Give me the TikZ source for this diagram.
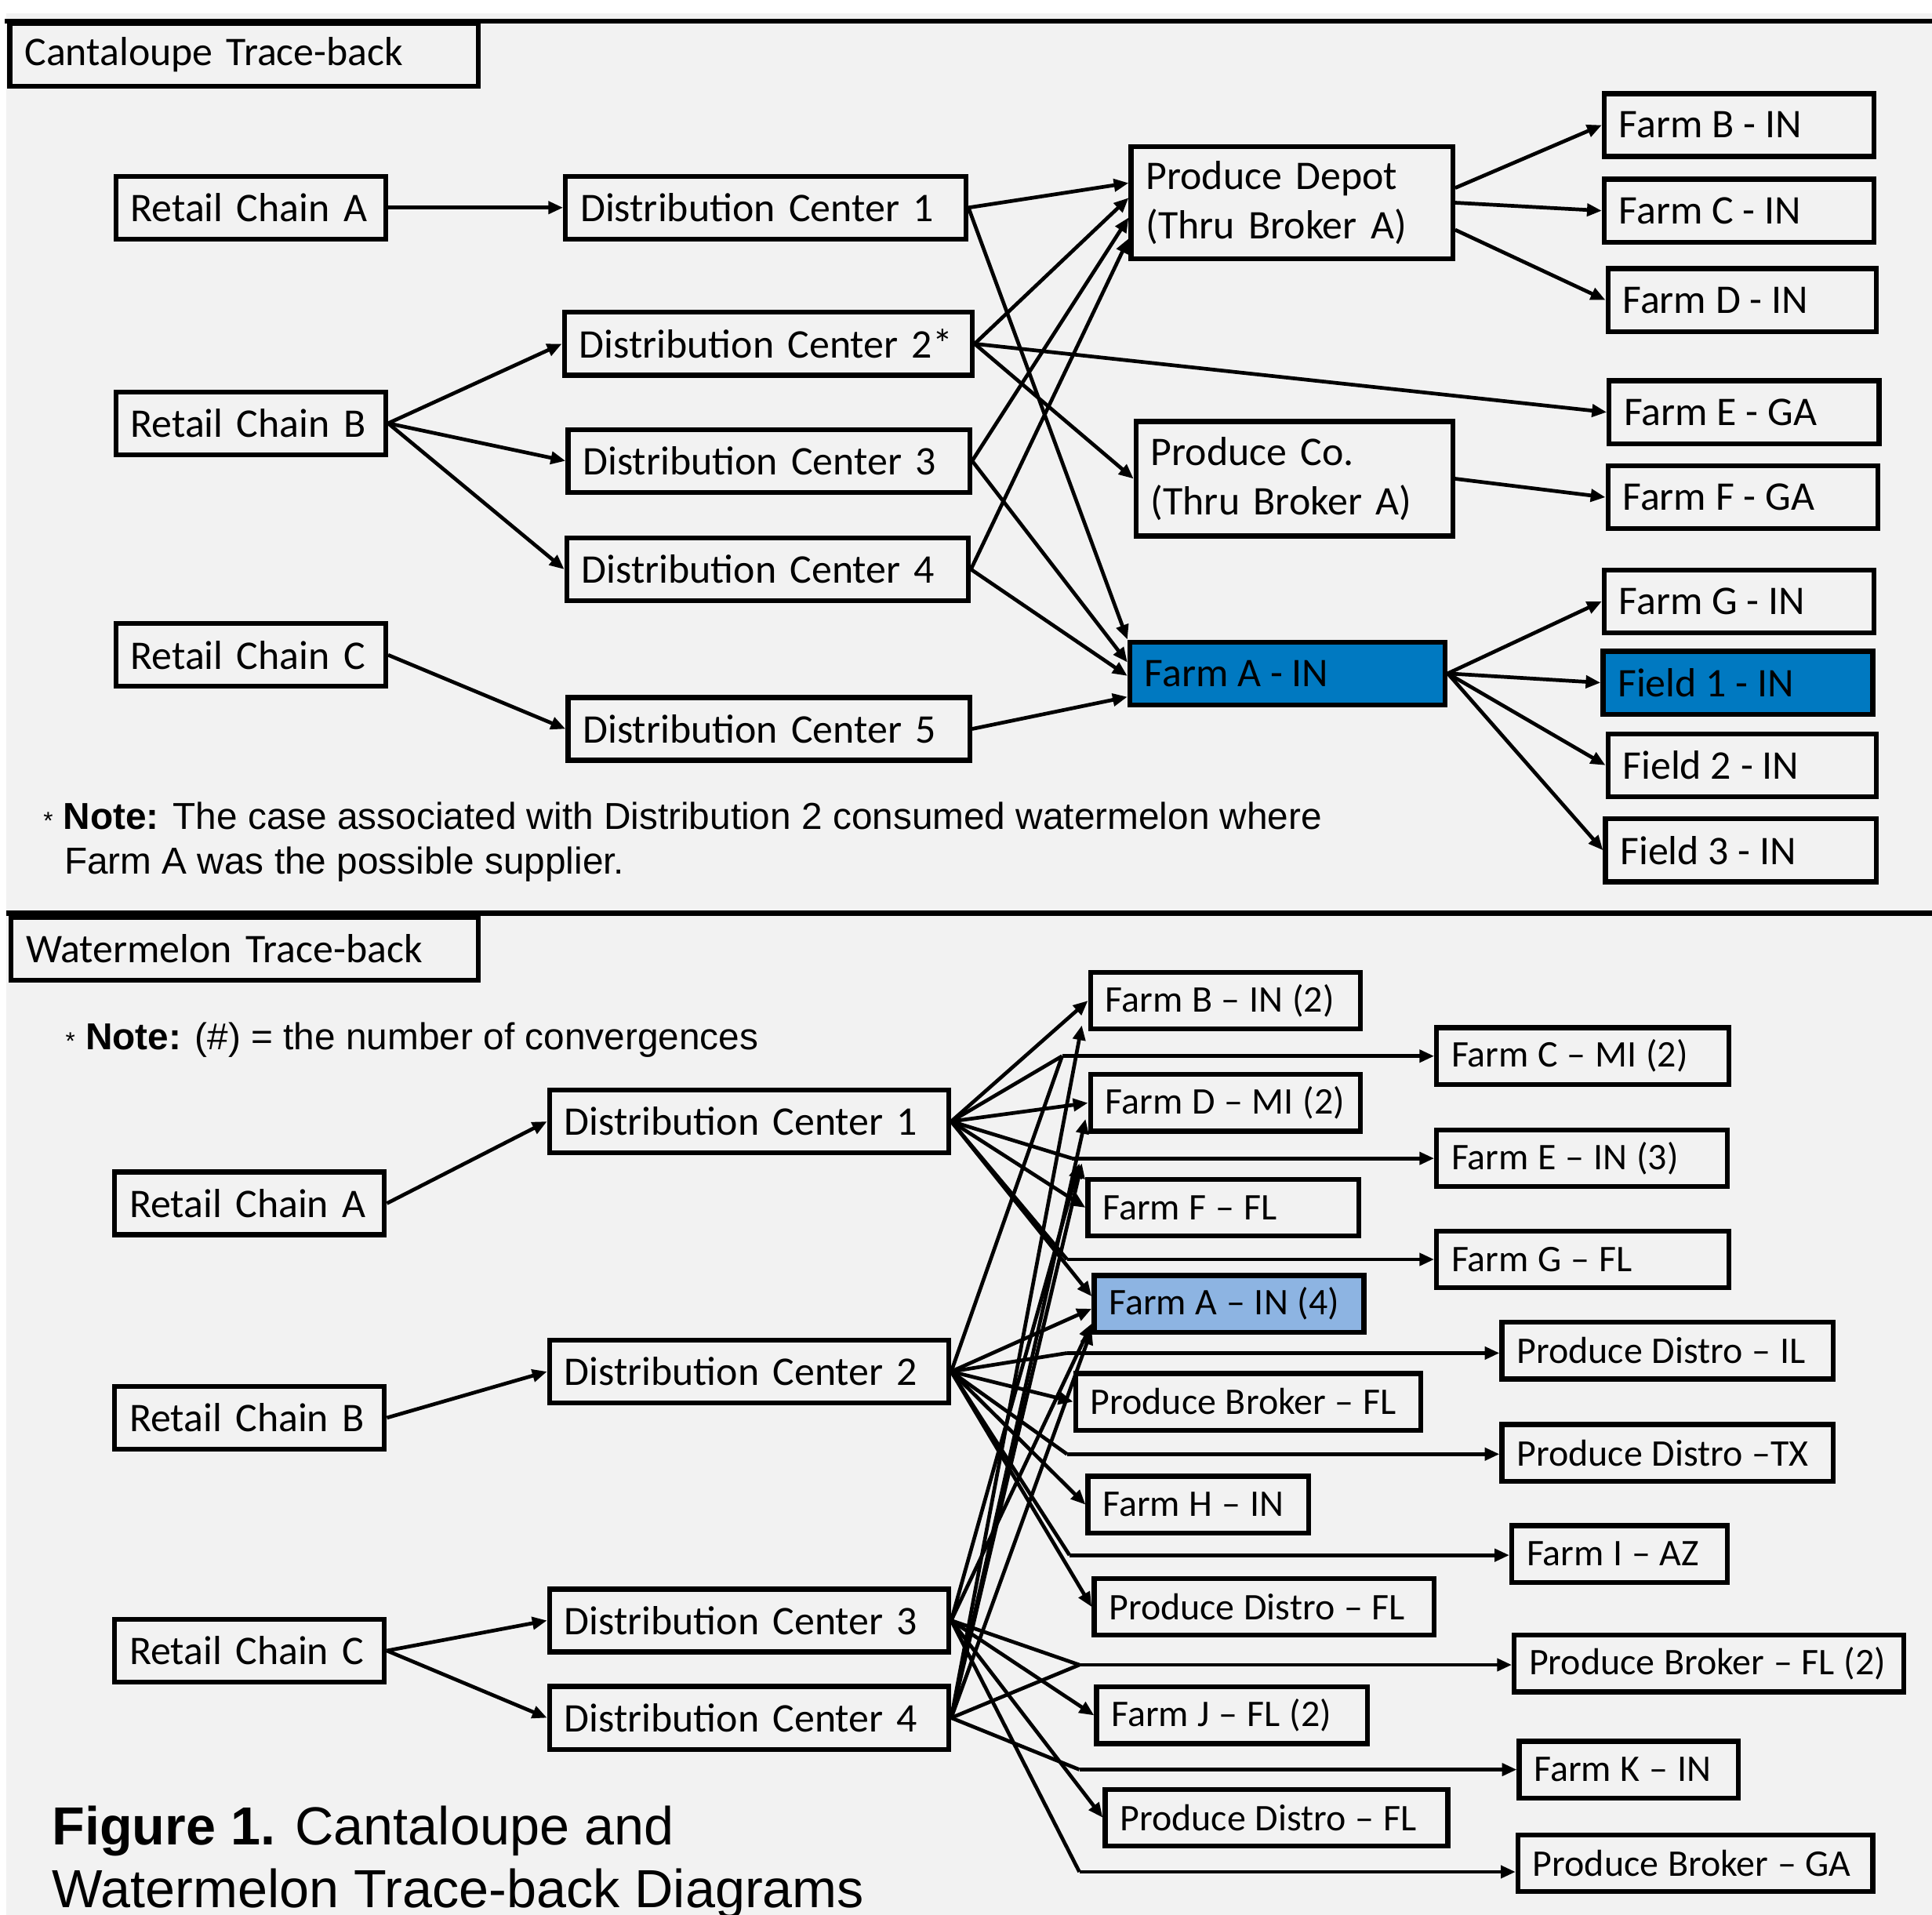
\documentclass[tikz,border=0pt]{standalone}
\usepackage{fontspec}
\setmainfont{Carlito}
\newfontfamily\notefont{Liberation Sans}
\usetikzlibrary{arrows.meta,calc}

\definecolor{panel}{RGB}{242,242,242}
\definecolor{farmblue}{RGB}{0,121,193}
\definecolor{lightblue}{RGB}{141,180,226}

\begin{document}
\begin{tikzpicture}[x=1pt,y=-1pt,
  cbox/.style={draw,line width=4pt,anchor=west,align=left,inner xsep=12pt,
               inner ysep=0pt,minimum height=51pt,text width=#1,
               font=\fontsize{33}{40}\selectfont},
  fbox/.style={cbox=#1,execute at begin node={\spaceskip=7.5pt\relax}},
  wbox/.style={cbox=#1,minimum height=46pt,font=\fontsize{30.5}{36}\selectfont,
               execute at begin node={\spaceskip=7.5pt\relax}},
  link/.style={line width=3pt},
  arrow/.style={link,-{Triangle[length=12pt,width=10pt]}},
  note/.style={anchor=base west,inner sep=0pt,font=\notefont\fontsize{30.4}{36}\selectfont}]

\fill[white] (0,0) rectangle (1568,1554);
\fill[panel] (5,11) rectangle (1568,1554);
\useasboundingbox (0,0) rectangle (1568,1554);
\draw[line width=4pt] (4,17) -- (1568,17);
\draw[line width=4pt] (5,741) -- (1568,741);

% Cantaloupe trace-back
\node[cbox=356pt] (ctitle) at (6,44.5) {Cantaloupe Trace-back};

\node[cbox=195pt] (rcA) at (92,168.5) {Retail Chain A};
\node[cbox=195pt] (rcB) at (92,343.5) {Retail Chain B};
\node[cbox=195pt] (rcC) at (92,531.5) {Retail Chain C};

\node[cbox=301pt] (dc1) at (457,168.5) {Distribution Center 1};
\node[cbox=307pt] (dc2) at (456,279) {Distribution Center 2*};
\node[cbox=302pt] (dc3) at (459,374) {Distribution Center 3};
\node[cbox=302pt] (dc4) at (458,462) {Distribution Center 4};
\node[cbox=302pt] (dc5) at (459,591.5) {Distribution Center 5};

\node[cbox=237pt,minimum height=91pt] (depot) at (916,164.5) {Produce Depot\\(Thru Broker A)};
\node[cbox=233pt,minimum height=93pt] (coop) at (920,388.5) {Produce Co.\\(Thru Broker A)};
\node[fbox=232pt,fill=farmblue] (farmA) at (915,546.5) {Farm A - IN};

\node[fbox=195pt] (farmB) at (1300,101.5) {Farm B - IN};
\node[fbox=195pt] (farmC) at (1300,171) {Farm C - IN};
\node[fbox=194pt] (farmD) at (1303,243.5) {Farm D - IN};
\node[fbox=195pt] (farmE) at (1304,334.5) {Farm E - GA};
\node[fbox=195pt] (farmF) at (1303,403.5) {Farm F - GA};
\node[fbox=195pt] (farmG) at (1300,488) {Farm G - IN};
\node[fbox=195pt,fill=farmblue] (field1) at (1299,554) {Field 1 - IN};
\node[fbox=194pt] (field2) at (1303,621) {Field 2 - IN};
\node[fbox=196pt] (field3) at (1301,690) {Field 3 - IN};

\draw[arrow] (rcA.east) -- (dc1.west);
\foreach \t in {dc2,dc3,dc4}
  \draw[arrow] (rcB.east) -- (\t.west);
\draw[arrow] (rcC.east) -- (dc5.west);

\draw[arrow] (dc1.east) -- ($(depot.west)+(0,-16)$);
\draw[arrow] (dc1.east) -- (farmA.north west);
\draw[arrow] (dc2.east) -- ($(depot.west)+(0,-4)$);
\draw[arrow] (dc2.east) -- (farmE.west);
\draw[arrow] (dc2.east) -- (coop.west);
\draw[arrow] (dc3.east) -- ($(depot.west)+(0,12)$);
\draw[arrow] (dc3.east) -- ($(farmA.west)+(0,-9)$);
\draw[arrow] (dc4.east) -- ($(depot.west)+(0,29)$);
\draw[arrow] (dc4.east) -- ($(farmA.west)+(0,2)$);
\draw[arrow] (dc5.east) -- ($(farmA.west)+(0,19)$);

\foreach \t/\s in {farmB/-12,farmC/0,farmD/22}
  \draw[arrow] ($(depot.east)+(0,\s)$) -- (\t.west);
\draw[arrow] (coop.east) -- (farmF.west);
\foreach \t in {farmG,field1,field2,field3}
  \draw[arrow] (farmA.east) -- (\t.west);

\node[note] (cnote) at (35,673)
  {{\fontsize{20}{20}\selectfont*} \textbf{Note:} The case associated with Distribution 2 consumed watermelon where};
\node[note] (cnote2) at (52,709) {Farm A was the possible supplier.};

% Watermelon trace-back
\node[cbox=355pt] (wtitle) at (7,770) {Watermelon Trace-back};
\node[note] (wnote) at (53,852)
  {{\fontsize{20}{20}\selectfont*} \textbf{Note:} (\#) = the number of convergences};

\node[cbox=195pt] (wrcA) at (91,976.5) {Retail Chain A};
\node[cbox=195pt] (wrcB) at (91,1150.5) {Retail Chain B};
\node[cbox=195pt] (wrcC) at (91,1339.5) {Retail Chain C};

\node[cbox=300pt] (wdc1) at (444,910) {Distribution Center 1};
\node[cbox=300pt] (wdc2) at (444,1113) {Distribution Center 2};
\node[cbox=300pt] (wdc3) at (444,1315) {Distribution Center 3};
\node[cbox=300pt] (wdc4) at (444,1394) {Distribution Center 4};

\node[wbox=195pt] (wfB) at (883,812) {Farm B -- IN (2)};
\node[wbox=195pt] (wfD) at (883,895) {Farm D -- MI (2)};
\node[wbox=196pt] (wfF) at (881,980) {Farm F -- FL};
\node[wbox=195pt,fill=lightblue] (wfA) at (886,1058) {Farm A -- IN (4)};
\node[wbox=256pt] (wpbFL) at (871,1137.5) {Produce Broker -- FL};
\node[wbox=155pt] (wfH) at (881,1221) {Farm H -- IN};
\node[wbox=252pt] (wpdFL1) at (886,1304) {Produce Distro -- FL};
\node[wbox=196pt] (wfJ) at (888,1392) {Farm J -- FL (2)};
\node[wbox=254pt] (wpdFL2) at (895,1475) {Produce Distro -- FL};

\node[wbox=213pt] (wfC) at (1164,857) {Farm C -- MI (2)};
\node[wbox=212pt] (wfE) at (1164,940) {Farm E -- IN (3)};
\node[wbox=213pt] (wfG) at (1164,1022) {Farm G -- FL};
\node[wbox=245pt] (wpdIL) at (1217,1096) {Produce Distro -- IL};
\node[wbox=245pt] (wpdTX) at (1217,1179) {Produce Distro --TX};
\node[wbox=151pt] (wfI) at (1225,1261) {Farm I -- AZ};
\node[wbox=292pt] (wpbFL2) at (1227,1350) {Produce Broker -- FL (2)};
\node[wbox=154pt] (wfK) at (1231,1436) {Farm K -- IN};
\node[wbox=264pt] (wpbGA) at (1230,1512) {Produce Broker -- GA};

\coordinate (eC) at (862,857);
\coordinate (eE) at (870,940);
\coordinate (eG) at (866,1022);
\coordinate (eIL) at (866,1098);
\coordinate (eTX) at (866,1180);
\coordinate (eI) at (868,1262);
\coordinate (ePB) at (876,1351);
\coordinate (eK) at (876,1436);
\coordinate (eGA) at (876,1519);

\draw[arrow] (wrcA.east) -- (wdc1.west);
\draw[arrow] (wrcB.east) -- (wdc2.west);
\draw[arrow] (wrcC.east) -- (wdc3.west);
\draw[arrow] (wrcC.east) -- (wdc4.west);

% DC 1
\foreach \t in {wfB,wfD,wfF}
  \draw[arrow] (wdc1.east) -- (\t.west);
\draw[arrow] (wdc1.east) -- ($(wfA.west)+(0,-6)$);
\foreach \e in {eC,eE,eG}
  \draw[link] (wdc1.east) -- (\e);

% DC 2
\draw[link] (wdc2.east) -- (eC);
\draw[arrow] (wdc2.east) -- ($(wfA.west)+(0,4)$);
\foreach \e in {eIL,eTX,eI}
  \draw[link] (wdc2.east) -- (\e);
\foreach \t in {wpbFL,wfH,wpdFL1}
  \draw[arrow] (wdc2.east) -- (\t.west);

% DC 3
\draw[arrow] (wdc3.east) -- ($(eE)+(6,4)$);
\draw[arrow] (wdc3.east) -- ($(wfA.south west)+(0,-9)$);
\draw[link] (wdc3.east) -- (ePB);
\draw[arrow] (wdc3.east) -- (wfJ.west);
\draw[arrow] (wdc3.east) -- (wpdFL2.west);
\draw[link] (wdc3.east) -- (eGA);

% DC 4
\draw[arrow] (wdc4.east) -- ($(wfB.south west)+(-5,-5)$);
\draw[arrow] (wdc4.east) -- ($(wfD.south west)+(-2,-12)$);
\draw[arrow] (wdc4.east) -- ($(eE)+(8,4)$);
\draw[arrow] (wdc4.east) -- ($(wfA.south west)+(0,-4)$);
\draw[link] (wdc4.east) -- (ePB);
\draw[link] (wdc4.east) -- (eK);

\foreach \e/\t in {eC/wfC,eE/wfE,eG/wfG,eIL/wpdIL,eTX/wpdTX,eI/wfI,ePB/wpbFL2,eK/wfK,eGA/wpbGA}
  \draw[arrow] (\e) -- (\e -| \t.west);

\node[anchor=base west,inner sep=0pt,font=\notefont\fontsize{43.5}{51}\selectfont]
  (caption1) at (42,1497) {\textbf{Figure 1.} Cantaloupe and};
\node[anchor=base west,inner sep=0pt,font=\notefont\fontsize{43.5}{51}\selectfont]
  (caption2) at (42,1548) {Watermelon Trace-back Diagrams};
\end{tikzpicture}
\end{document}
